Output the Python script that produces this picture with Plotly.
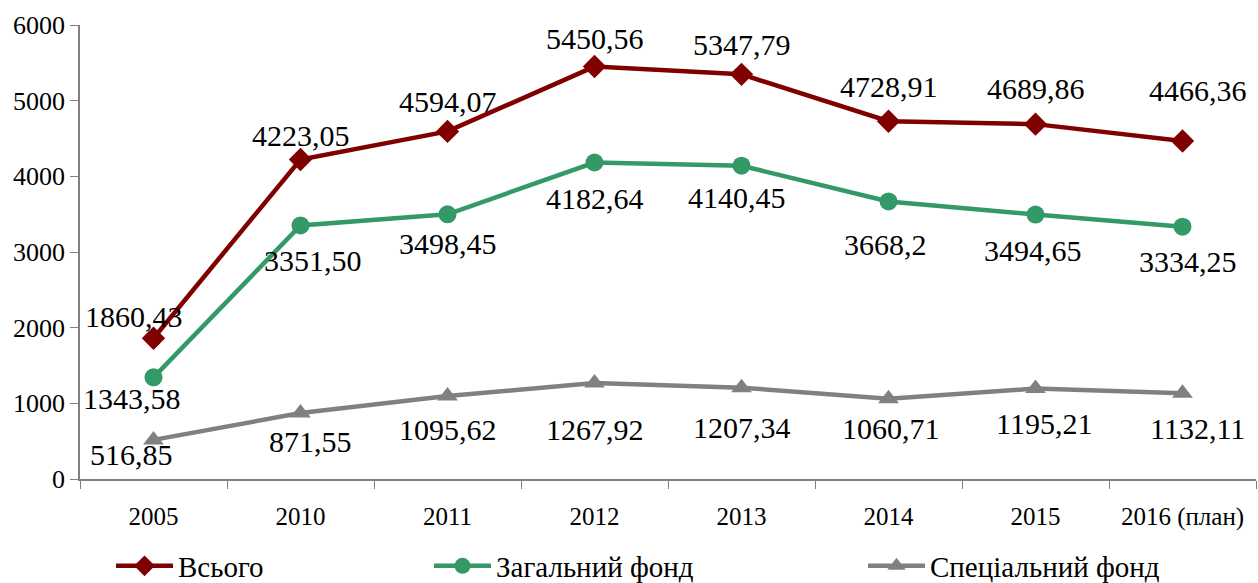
import plotly.graph_objects as go

categories = ["2005", "2010", "2011", "2012", "2013", "2014", "2015", "2016 (план)"]
total = [1860.43, 4223.05, 4594.07, 5450.56, 5347.79, 4728.91, 4689.86, 4466.36]
general = [1343.58, 3351.50, 3498.45, 4182.64, 4140.45, 3668.2, 3494.65, 3334.25]
special = [516.85, 871.55, 1095.62, 1267.92, 1207.34, 1060.71, 1195.21, 1132.11]
total_labels = ["1860,43", "4223,05", "4594,07", "5450,56", "5347,79", "4728,91", "4689,86", "4466,36"]
general_labels = ["1343,58", "3351,50", "3498,45", "4182,64", "4140,45", "3668,2", "3494,65", "3334,25"]
special_labels = ["516,85", "871,55", "1095,62", "1267,92", "1207,34", "1060,71", "1195,21", "1132,11"]
names = ["Всього", "Загальний фонд", "Спеціальний фонд"]

# label offsets (pixels)
total_dx = [-20, 0, 0, 0, 0, 0, 0, 15]
total_dy = [22, 24, 30, 28, 30, 35, 36, 51]
general_dx = [-22, 12, 0, 0, -5, -3, -3, 5]
general_dy = [-21, -35, -29, -36, -32, -43, -36, -35]
special_dx = [-22, 10, 0, 0, 0, 2, 8, 15]
special_dy = [-15, -28, -33, -46, -40, -30, -35, -35]

FONT = "Liberation Serif, Times New Roman, DejaVu Serif, serif"
RED = "#800000"
GREEN = "#339966"
GREY = "#808080"

W, H = 1258, 583
ML, MR, MT, MB = 80, 2, 25, 104
PW = W - ML - MR

fig = go.Figure()
series = [
    (total, names[0], RED, "diamond", 18, "legend"),
    (general, names[1], GREEN, "circle", 18, "legend2"),
    (special, names[2], GREY, "triangle-up", 18, "legend3"),
]
for vals, nm, col, sym, sz, lg in series:
    fig.add_trace(go.Scatter(
        x=categories, y=vals, name=nm, mode="lines+markers",
        line=dict(color=col, width=4.5),
        marker=dict(symbol=sym, size=sz, color=col),
        legend=lg, showlegend=True,
    ))

anns = []
for vals, labs, dxs, dys in [
    (total, total_labels, total_dx, total_dy),
    (general, general_labels, general_dx, general_dy),
    (special, special_labels, special_dx, special_dy),
]:
    for i, (v, t, dx, dy) in enumerate(zip(vals, labs, dxs, dys)):
        anns.append(dict(x=i, y=v, xref="x", yref="y", text=t, showarrow=False,
                         xshift=dx, yshift=dy,
                         font=dict(family=FONT, size=30, color="black")))

legend_common = dict(orientation="h", xref="paper", yref="container", yanchor="middle",
                     y=1 - 566 / H, xanchor="left", itemwidth=57,
                     font=dict(family=FONT, size=29, color="black"),
                     bgcolor="rgba(0,0,0,0)")

fig.update_layout(
    width=W, height=H,
    margin=dict(l=ML, r=MR, t=MT, b=MB),
    plot_bgcolor="white", paper_bgcolor="white",
    font=dict(family=FONT, size=22, color="black"),
    showlegend=True,
    annotations=anns,
    legend=dict(legend_common, x=(111 - ML) / PW),
    legend2=dict(legend_common, x=(429 - ML) / PW),
    legend3=dict(legend_common, x=(863 - ML) / PW),
    xaxis=dict(
        type="category", range=[-0.5, 7.5], tickson="boundaries",
        ticks="outside", ticklen=8, tickcolor="#808080",
        showline=True, linecolor="#808080", linewidth=1.5,
        showgrid=False, zeroline=False, automargin=False,
        tickfont=dict(family=FONT, size=25, color="black"),
        ticklabelstandoff=14,
    ),
    yaxis=dict(
        range=[0, 6000], tickvals=[0, 1000, 2000, 3000, 4000, 5000, 6000],
        ticks="outside", ticklen=8, tickcolor="#808080",
        showline=True, linecolor="#808080", linewidth=1.5,
        showgrid=False, zeroline=False, automargin=False,
        tickfont=dict(family=FONT, size=26, color="black"),
        ticklabelstandoff=0,
    ),
)

fig.write_html("out.html", config={"displayModeBar": False},
               post_script="document.body.style.margin='0';")
